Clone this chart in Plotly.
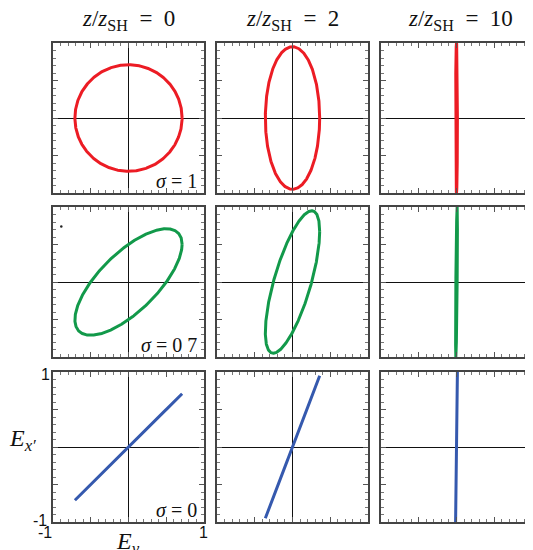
import numpy as np
import plotly.graph_objects as go

# propagation distances (columns) and sigma values (rows)
z_ratio = [0, 2, 10]
sigma_labels = ["1", "0 7", "0"]
# field amplitudes, per column
amp_ey = [0.71, 0.36, 0.012]
amp_ex = [0.71, 0.95, 1.0]
# phase difference between components, per row (degrees)
phase_deg = [90, 45, 0]
row_colors = ["#ec1c24", "#12994a", "#3559ae"]

# page body has an 8px margin, so shift everything up/left by that
OFF = 8
W, H = 533 - OFF, 550 - OFF
col_px = [(53, 204), (217, 368), (381, 532)]
row_px = [(43, 193), (207, 357), (372, 522)]


def px_x(p):
    return (p - OFF) / W


def px_y(p):
    return 1 - (p - OFF) / H


SERIF = "Liberation Serif"
SANS = "Liberation Sans"

fig = go.Figure()
t = np.linspace(0, 2 * np.pi, 721)

for r in range(3):
    for c in range(3):
        k = r * 3 + c + 1
        xa = "x" if k == 1 else f"x{k}"
        ya = "y" if k == 1 else f"y{k}"
        d = np.deg2rad(phase_deg[r])
        ey = amp_ey[c] * np.cos(t)
        ex = amp_ex[c] * np.cos(t - d)
        fig.add_trace(
            go.Scatter(
                x=ey, y=ex, mode="lines",
                line=dict(color=row_colors[r], width=3),
                xaxis=xa, yaxis=ya, showlegend=False, hoverinfo="skip",
            )
        )
        x0, x1 = col_px[c]
        y0, y1 = row_px[r]
        axis_common = dict(
            range=[-1, 1],
            showgrid=False,
            zeroline=True,
            zerolinecolor="#111111",
            zerolinewidth=1,
            showline=True,
            linecolor="#444444",
            linewidth=1.5,
            mirror="allticks",
            ticks="inside",
            ticklen=5,
            tickwidth=1,
            tickcolor="#555555",
            tickvals=[-1, -0.5, 0, 0.5, 1],
            showticklabels=False,
            minor=dict(ticks="inside", ticklen=3, dtick=0.1, tickcolor="#777777", tickwidth=1),
            fixedrange=True,
        )
        key_x = "xaxis" if k == 1 else f"xaxis{k}"
        key_y = "yaxis" if k == 1 else f"yaxis{k}"
        fig.update_layout(**{
            key_x: dict(axis_common, domain=[px_x(x0), px_x(x1)], anchor=ya),
            key_y: dict(axis_common, domain=[px_y(y1), px_y(y0)], anchor=xa),
        })

# stray dot in the middle-left panel
fig.add_trace(
    go.Scatter(
        x=[-0.89], y=[0.74], mode="markers",
        marker=dict(color="#222222", size=2.5),
        xaxis="x4", yaxis="y4", showlegend=False, hoverinfo="skip",
    )
)

ann = []


def label(text, px, py, family, size, xanchor="center"):
    ann.append(dict(
        x=px_x(px), y=px_y(py), xref="paper", yref="paper",
        xanchor=xanchor, yanchor="middle", text=text, showarrow=False,
        font=dict(family=family, size=size, color="#111111"),
    ))


# column titles
for c, z in enumerate(z_ratio):
    xc = (col_px[c][0] + col_px[c][1]) / 2 + (4 if c == 2 else 0)
    label(f"<i>z</i>/<i>z</i><sub>SH</sub>&nbsp;&nbsp;=&nbsp;&nbsp;{z}", xc, 20, SERIF, 23)
# sigma labels
for r, s in enumerate(sigma_labels):
    label(f"<i>σ</i>&nbsp;=&nbsp;{s}", 199, row_px[r][1] - 12, SERIF, 20, xanchor="right")
# tick labels of the bottom-left panel
for txt, px, py in [("1", 45, 374), ("-1", 40, 520), ("-1", 45, 532), ("1", 203, 532)]:
    label(txt, px, py, SANS, 16)
# axis titles
label("<i>E</i><sub><i>x′</i></sub>", 22, 440, SERIF, 24)
label("<i>E</i><sub><i>y</i></sub>", 128, 543, SERIF, 24)

fig.update_layout(
    width=W, height=H,
    margin=dict(l=0, r=0, t=0, b=0),
    paper_bgcolor="white", plot_bgcolor="white",
    annotations=ann,
)

fig.write_html("out.html")
